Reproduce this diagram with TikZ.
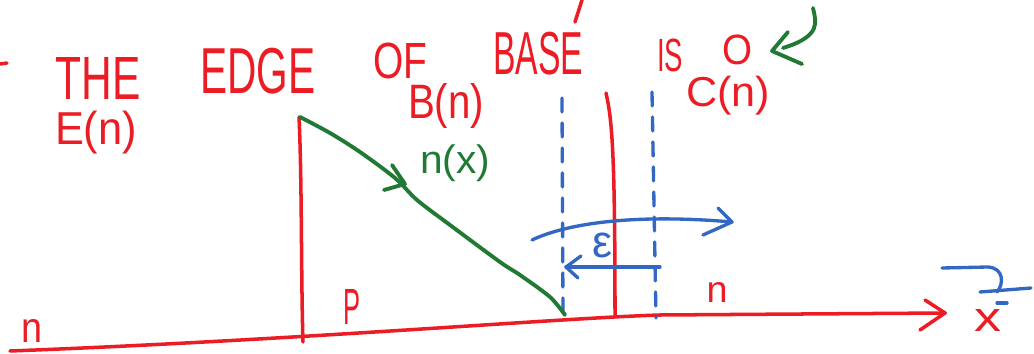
\documentclass[tikz,border=0pt]{standalone}
\usepackage{fontspec}
\setmainfont{Liberation Sans}
\definecolor{inkred}{RGB}{236,28,36}
\definecolor{inkgreen}{RGB}{32,122,52}
\definecolor{inkblue}{RGB}{50,104,196}
\newcommand\hw[3]{\resizebox*{#1cm}{#2cm}{#3}}
\begin{document}
\begin{tikzpicture}[x=0.02cm,y=-0.02cm,
  redink/.style={draw=inkred,line width=2pt,line cap=round,line join=round},
  greenink/.style={draw=inkgreen,line width=2.2pt,line cap=round,line join=round},
  blueink/.style={draw=inkblue,line width=1.9pt,line cap=round,line join=round},
  bluedash/.style={blueink,dash pattern=on 0.28cm off 0.22cm},
  rtxt/.style={text=inkred,inner sep=0pt},
  gtxt/.style={text=inkgreen,inner sep=0pt},
  btxt/.style={text=inkblue,inner sep=0pt}]
\useasboundingbox (0,0) rectangle (1034,354);
\fill[white] (0,0) rectangle (1034,354);

% headline
\node[rtxt] (the)  at (98,79)  {\hw{1.70}{0.84}{THE}};
\node[rtxt] (edge) at (258,71) {\hw{2.30}{0.92}{EDGE}};
\node[rtxt] (of)   at (400,61) {\hw{1.08}{0.72}{OF}};
\node[rtxt] (base) at (538,54) {\hw{1.80}{0.86}{BASE}};
\node[rtxt] (is)   at (670,55) {\hw{0.52}{0.66}{IS}};
\node[rtxt] (zero) at (737,50) {\hw{0.60}{0.60}{O}};
\draw[redink] (582,0) -- (575,22);
\draw[redink] (0,64) -- (7,63);

% labels
\node[rtxt] (En) at (96,133)  {\hw{1.64}{0.86}{E(n)}};
\node[rtxt] (Bn) at (446,106) {\hw{1.52}{0.90}{B(n)}};
\node[rtxt] (Cn) at (728,96)  {\hw{1.68}{0.78}{C(n)}};
\node[gtxt] (nx) at (455,163) {\hw{1.40}{0.74}{n(x)}};
\node[rtxt] (nl) at (32,331)  {\hw{0.42}{0.46}{n}};
\node[rtxt] (P)  at (352,307) {\hw{0.34}{0.70}{P}};
\node[rtxt] (nr) at (717,293) {\hw{0.42}{0.40}{n}};
\node[rtxt] (xx) at (988,321) {\hw{0.54}{0.44}{x}};
\node[btxt] (eps) at (602,245) {\hw{0.40}{0.50}{ε}};

% green curved arrow pointing at O
\coordinate (g1) at (813,8);
\coordinate (g2) at (783,48);
\draw[greenink] (g1) .. controls (816,22) and (822,36) .. (g2);
\draw[greenink] (788,32) -- (772,51) -- (802,64);

% axis
\coordinate (a0) at (10,351);
\coordinate (a1) at (945,313);
\draw[redink] (a0) .. controls (300,340) and (560,318) .. (660,315) -- (a1);
\draw[redink] (925,300) -- (a1) -- (920,330);

% verticals
\coordinate (v1t) at (299,117);
\coordinate (v1b) at (303,342);
\draw[redink] (v1t) .. controls (302,180) and (301,280) .. (v1b);
\coordinate (v2t) at (606,93);
\coordinate (v2b) at (615,316);
\draw[redink] (v2t) .. controls (612,120) and (615,150) .. (v2b);

% dashed lines
\coordinate (d1t) at (562,98);
\coordinate (d1b) at (563,317);
\coordinate (d2t) at (652,92);
\coordinate (d2b) at (656,318);
\draw[bluedash] (d1t) -- (d1b);
\draw[bluedash] (d2t) -- (d2b);

% green profile n(x)
\draw[greenink] plot[smooth,tension=0.5] coordinates {(300,117) (330,133) (360,152) (395,178) (417,200) (450,225) (500,262) (520,275) (550,297) (565,315)};
\draw[greenink] (392,165) -- (405,184) -- (384,190);

% blue arc arrow
\coordinate (b1) at (532,240);
\coordinate (b2) at (732,222);
\draw[blueink] (b1) .. controls (570,222) and (640,214) .. (b2);
\draw[blueink] (718,208) -- (b2) -- (703,235);

% epsilon arrow
\coordinate (e1) at (660,267);
\coordinate (e2) at (566,267);
\draw[blueink] (e1) -- (e2);
\draw[blueink] (581,256) -- (e2) -- (578,278);

% blue bar over x and squiggle
\draw[blueink] (997,303) -- (1007,303);
\draw[blueink] (942,268) -- (988,267) .. controls (1004,268) and (1004,284) .. (997,292);
\draw[blueink] (980,292) -- (1031,288);
\end{tikzpicture}
\end{document}
